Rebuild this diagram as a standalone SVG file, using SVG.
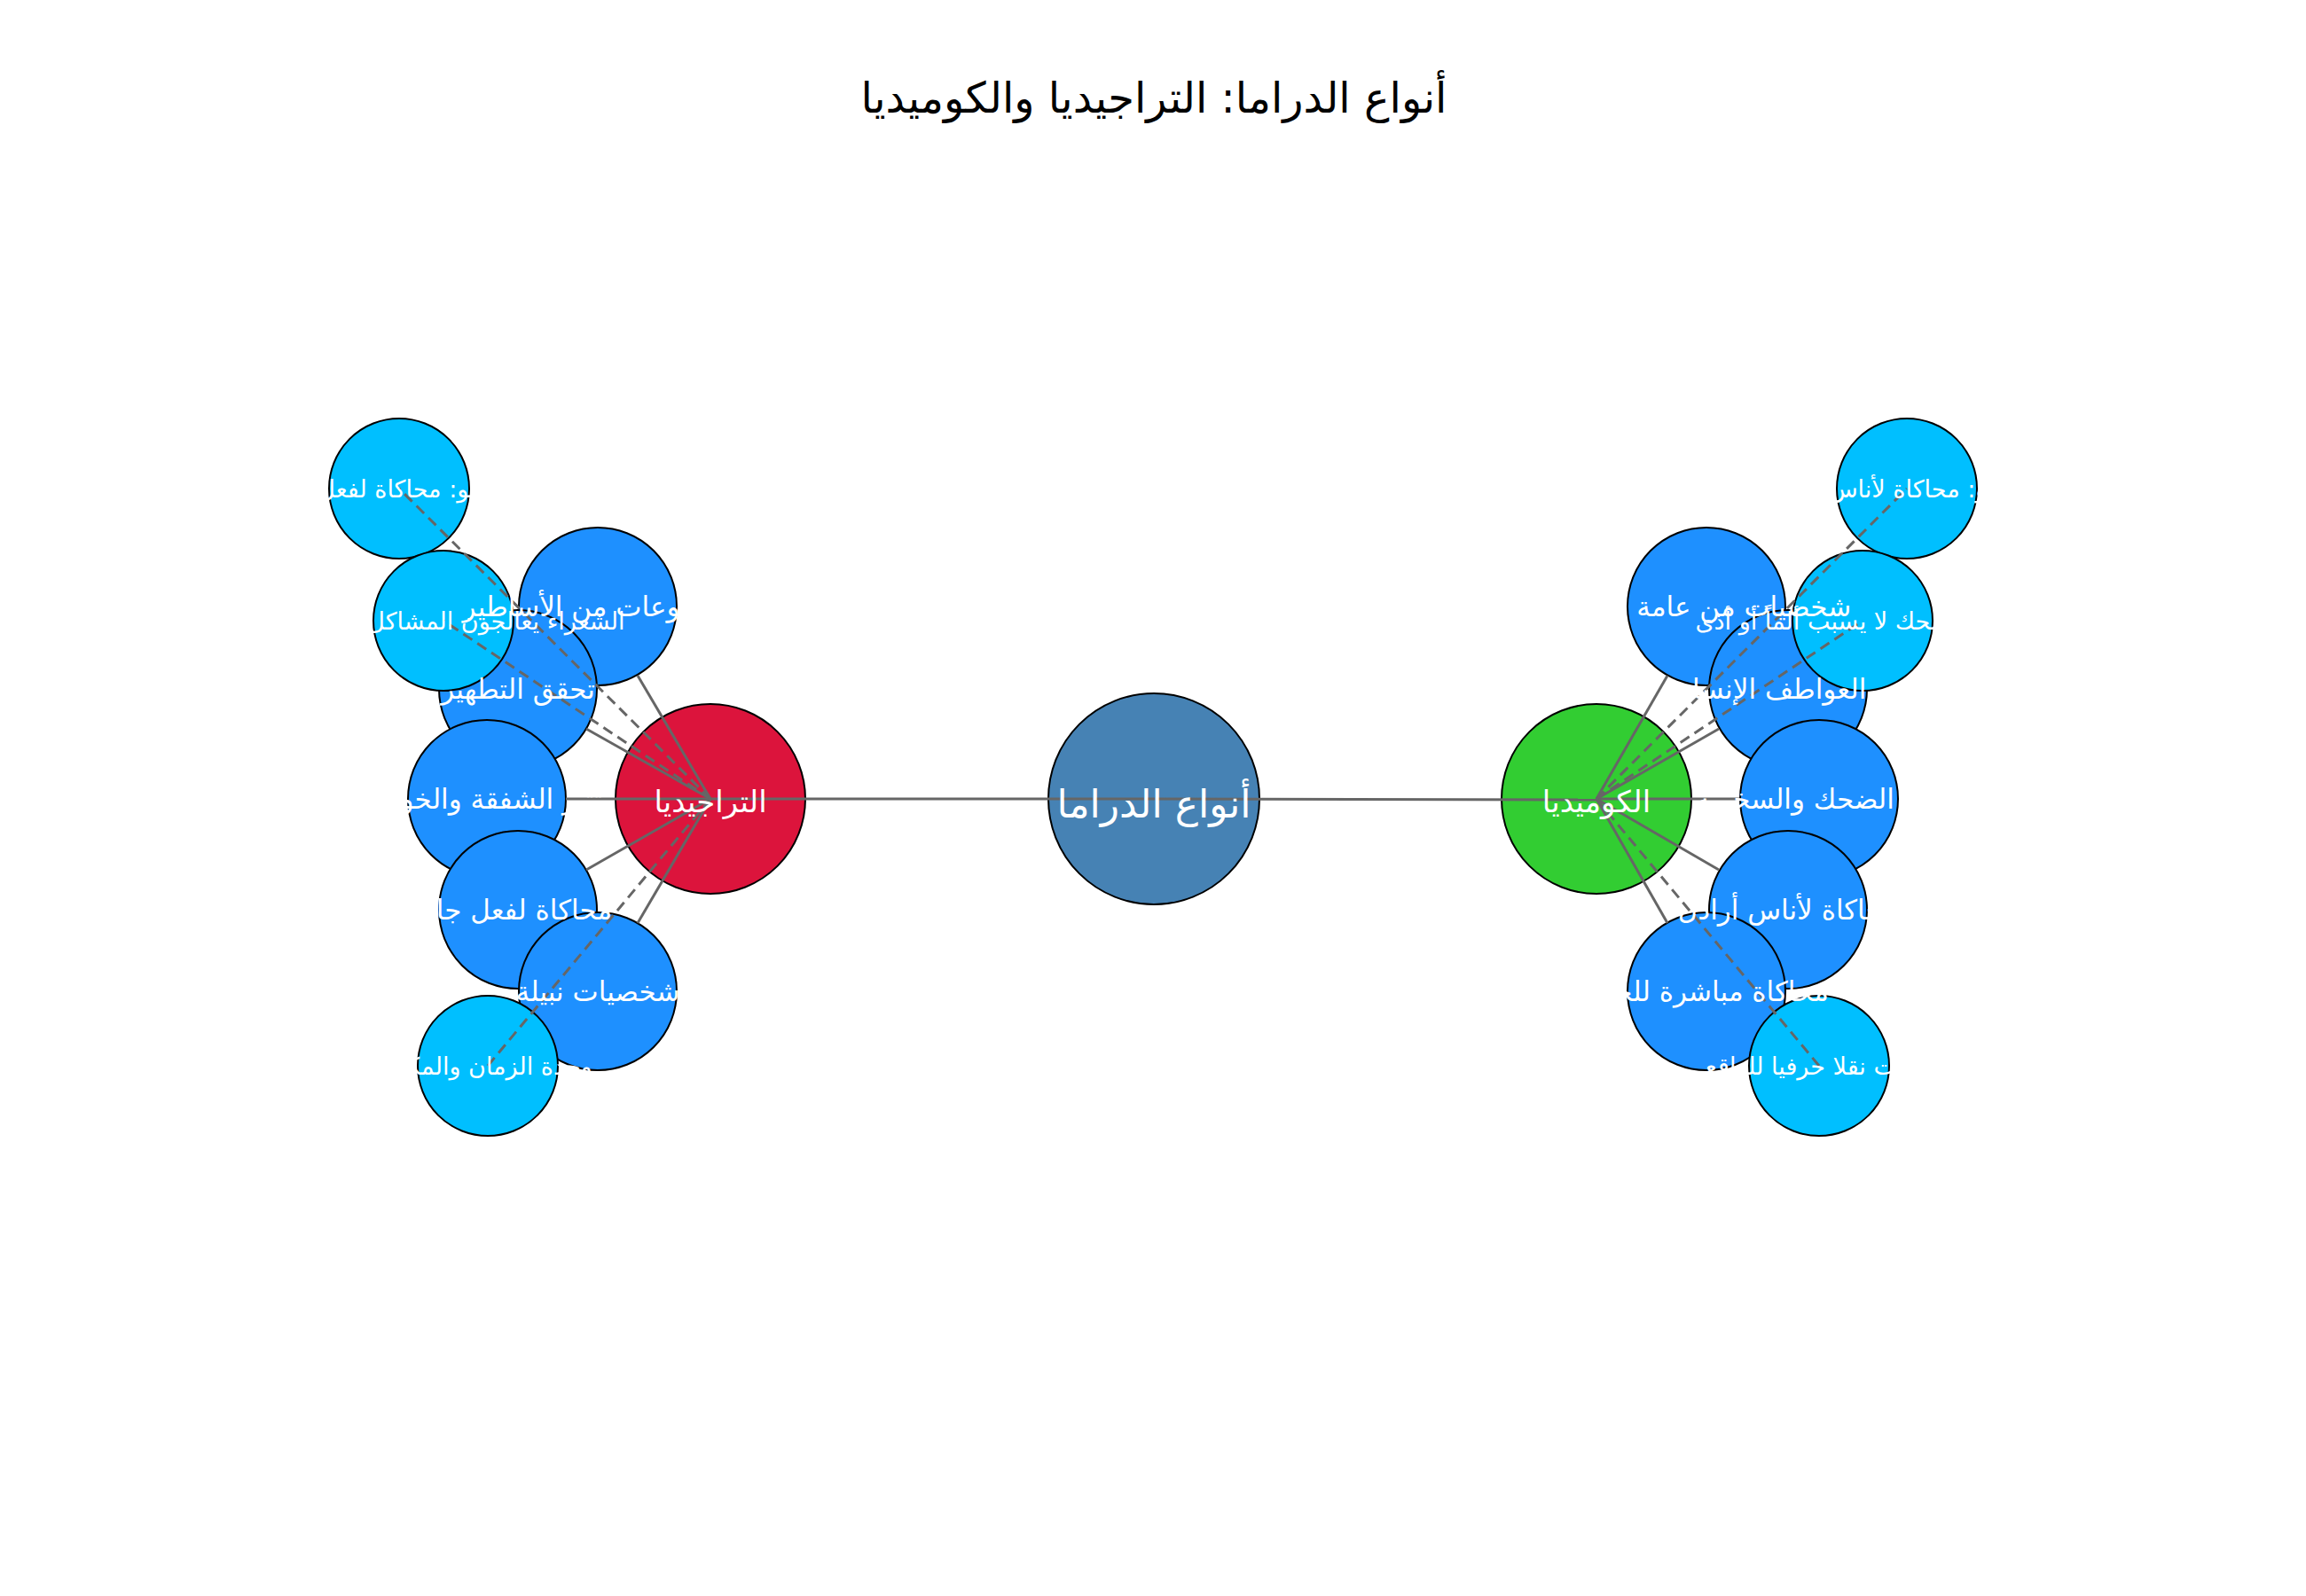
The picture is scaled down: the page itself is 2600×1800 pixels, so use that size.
<svg xmlns="http://www.w3.org/2000/svg" width="2600" height="1800" viewBox="0 0 2600 1800">
<style>
text{font-family:"DejaVu Sans","Noto Sans",sans-serif;fill:#fff;text-anchor:middle;dominant-baseline:central}
circle{stroke:#000;stroke-width:2}
.d{fill:#1E90FF}.l{fill:#00BFFF}
.e{stroke:#666;stroke-width:3;fill:none}
.ed{stroke:#666;stroke-width:3;fill:none;stroke-dasharray:12,7}
.t1{font-size:31px}.t2{font-size:27px}
</style>
<rect width="2600" height="1800" fill="#fff"/>
<text x="1301" y="110" style="fill:#000;font-size:48px">أنواع الدراما: التراجيديا والكوميديا</text>
<g id="n-center"><circle cx="1301" cy="901" r="119" fill="#4682B4"/></g>
<g id="n-tragedy"><circle cx="801" cy="901" r="107" fill="#DC143C"/></g>
<g id="n-comedy"><circle cx="1800" cy="901" r="107" fill="#32CD32"/></g>
<g id="n-t1"><circle class="d" cx="674" cy="684" r="89"/></g>
<g id="n-t2"><circle class="d" cx="584" cy="777" r="89"/></g>
<g id="n-t3"><circle class="d" cx="549" cy="901" r="89"/></g>
<g id="n-t4"><circle class="d" cx="584" cy="1026" r="89"/></g>
<g id="n-t5"><circle class="d" cx="674" cy="1118" r="89"/></g>
<g id="n-tl1"><circle class="l" cx="450" cy="551" r="79"/></g>
<g id="n-tl2"><circle class="l" cx="500" cy="700" r="79"/></g>
<g id="n-tl3"><circle class="l" cx="550" cy="1202" r="79"/></g>
<g id="n-c1"><circle class="d" cx="1924" cy="684" r="89"/></g>
<g id="n-c2"><circle class="d" cx="2016" cy="777" r="89"/></g>
<g id="n-c3"><circle class="d" cx="2051" cy="901" r="89"/></g>
<g id="n-c4"><circle class="d" cx="2016" cy="1026" r="89"/></g>
<g id="n-c5"><circle class="d" cx="1924" cy="1118" r="89"/></g>
<g id="n-cl1"><circle class="l" cx="2150" cy="551" r="79"/></g>
<g id="n-cl2"><circle class="l" cx="2100" cy="700" r="79"/></g>
<g id="n-cl3"><circle class="l" cx="2051" cy="1202" r="79"/></g>
<g id="connectors">
<line class="e" x1="1301" y1="901" x2="801" y2="901"/>
<line class="e" x1="1301" y1="901" x2="1800" y2="902"/>
<line class="e" x1="801" y1="901" x2="719" y2="762"/>
<line class="e" x1="801" y1="901" x2="661" y2="822"/>
<line class="e" x1="801" y1="901" x2="638" y2="901"/>
<line class="e" x1="801" y1="901" x2="661" y2="981"/>
<line class="e" x1="801" y1="901" x2="719" y2="1041"/>
<line class="ed" x1="801" y1="901" x2="450" y2="551"/>
<line class="ed" x1="801" y1="901" x2="500" y2="700"/>
<line class="ed" x1="801" y1="901" x2="550" y2="1202"/>
<line class="e" x1="1800" y1="901" x2="1880" y2="762"/>
<line class="e" x1="1800" y1="901" x2="1938" y2="822"/>
<line class="e" x1="1800" y1="901" x2="1961" y2="901"/>
<line class="e" x1="1800" y1="901" x2="1938" y2="981"/>
<line class="e" x1="1800" y1="901" x2="1880" y2="1041"/>
<line class="ed" x1="1800" y1="901" x2="2150" y2="551"/>
<line class="ed" x1="1800" y1="901" x2="2100" y2="700"/>
<line class="ed" x1="1800" y1="901" x2="2051" y2="1202"/>
</g>
<g id="labels">
<text x="1301" y="906" style="font-size:44px">أنواع الدراما</text>
<text x="801" y="904" style="font-size:34px">التراجيديا</text>
<text x="1800" y="904" style="font-size:34px">الكوميديا</text>
<text class="t1" x="674" y="684">موضوعات من الأساطير</text>
<text class="t1" x="584" y="777">تحقق التطهير</text>
<text class="t1" x="549" y="901">تثير الشفقة والخوف</text>
<text class="t1" x="584" y="1026">محاكاة لفعل جاد</text>
<text class="t1" x="674" y="1118">شخصيات نبيلة</text>
<text class="t2" x="450" y="551">أرسطو: محاكاة لفعل نبيل</text>
<text class="t2" x="500" y="700">الشعراء يعالجون المشاكل الاجتماعية</text>
<text class="t2" x="550" y="1202">وحدة الزمان والمكان</text>
<text class="t1" x="1924" y="684">شخصيات من عامة الناس</text>
<text class="t1" x="2016" y="777">تثير العواطف الإنسانية</text>
<text class="t1" x="2051" y="901">تثير الضحك والسخرية</text>
<text class="t1" x="2016" y="1026">محاكاة لأناس أراذل</text>
<text class="t1" x="1924" y="1118">محاكاة مباشرة للحياة</text>
<text class="t2" x="2150" y="551">أرسطو: محاكاة لأناس أراذل</text>
<text class="t2" x="2100" y="700">المثير للضحك لا يسبب ألماً أو أذى</text>
<text class="t2" x="2051" y="1202">ليست نقلا حرفيا للواقع</text>
</g>
</svg>
